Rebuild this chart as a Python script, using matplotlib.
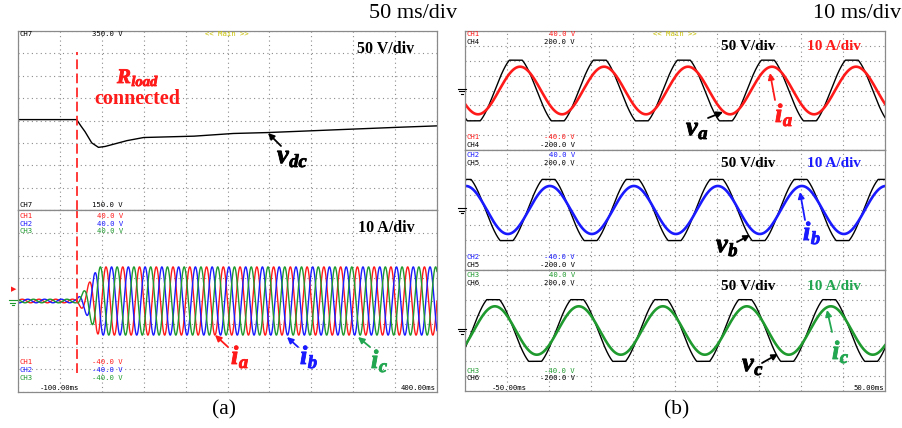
import matplotlib

matplotlib.use("Agg")
import matplotlib.pyplot as plt
import matplotlib.patheffects as pe
import numpy as np
from matplotlib.lines import Line2D
from matplotlib.patches import FancyArrowPatch

FIG_W, FIG_H = 903, 428

# (a) R_load step, 50 ms/div
vdc_time_ms = [-100, -30, -25, -20, -12, -4, 4, 14, 30, 50, 110, 157, 197, 237, 276, 356, 400]
vdc_volts = [251, 251, 244, 237.5, 225, 220, 221, 223.5, 227.5, 231, 232.5, 235.5, 236.5, 238, 239.5, 242.5, 244]
load_step_ms = -30
current_env_time_ms = [-100, -30, -20, -12, -4, 400]
current_env_amps = [0.8, 0.8, 5, 10, 15, 15]
phase_names = ["a", "b", "c"]
phase_shift_deg = [0, -120, 120]
line_freq_hz = 50

# (b) steady state, 10 ms/div
v_peak_time_ms = [-37.9, -30.1, -43.3]
i_peak_time_ms = [-36.9, -29.8, -42.9]
v_sine_amp_volts = 115
v_flat_top_volts = 102
i_amp_amps = 16

V_PER_DIV = 50
A_PER_DIV = 10

RED = "#ff1a1a"
BLUE = "#1a1aff"
GREEN = "#1f9a2e"
LABEL_GREEN = "#22a650"
YELLOW = "#c8c000"
phase_colors = [RED, BLUE, GREEN]
label_colors = [RED, BLUE, LABEL_GREEN]

SERIF = "Liberation Serif"
MONO = "DejaVu Sans Mono"


def fpos(x, y):
    return x / FIG_W, 1 - y / FIG_H


def add_scope_axes(fig, x0, y0, x1, y1, xlim, ylim):
    ax = fig.add_axes([x0 / FIG_W, 1 - y1 / FIG_H, (x1 - x0) / FIG_W, (y1 - y0) / FIG_H])
    ax.set_xlim(xlim)
    ax.set_ylim(ylim)
    ax.set_xticks(np.linspace(xlim[0], xlim[1], 11))
    ax.set_yticks(np.linspace(ylim[0], ylim[1], 9))
    ax.tick_params(length=0, labelbottom=False, labelleft=False)
    ax.set_axisbelow(True)
    ax.grid(True, color="#8c8c8c", linestyle=(0, (1, 3)), linewidth=0.8)
    for spine in ax.spines.values():
        spine.set_color("#8a8a8a")
        spine.set_linewidth(0.9)
    return ax


def scope_text(fig, x, y, text, color="black", ha="left"):
    fig.text(*fpos(x, y), text, color=color, ha=ha, va="center", family=MONO, fontsize=5.2)


def bold_text(fig, x, y, text, color="black", size=11.5, ha="center", va="center"):
    fig.text(*fpos(x, y), text, color=color, ha=ha, va=va, family=SERIF,
             fontweight="bold", fontsize=size)


def symbol_label(fig, x, y, main, sub, color="black", size=19, sub_drop=4):
    # bold italic letter with a bold italic subscript, baseline at pixel y
    renderer = fig.canvas.get_renderer()
    heavy = [pe.withStroke(linewidth=0.6, foreground=color)]
    t_main = fig.text(*fpos(x, y), main, color=color, ha="left", va="baseline",
                      family=SERIF, fontweight="bold", fontstyle="italic", fontsize=size,
                      path_effects=heavy)
    x_end = t_main.get_window_extent(renderer).x1
    fig.text(x_end / FIG_W + 0.5 / FIG_W, 1 - (y + sub_drop) / FIG_H, sub, color=color,
             ha="left", va="baseline", family=SERIF, fontweight="bold",
             fontstyle="italic", fontsize=size * 0.7, path_effects=heavy)


def arrow(fig, tail, head, color):
    fig.add_artist(FancyArrowPatch(
        fpos(*tail), fpos(*head), transform=fig.transFigure,
        arrowstyle="-|>", color=color, lw=1.3, mutation_scale=9,
        shrinkA=0, shrinkB=0,
    ))


def ground_mark(fig, x, y, color):
    for dx, half in [(0, 4), (2.5, 2.5), (5, 1)]:
        fig.add_artist(Line2D([(x - half) / FIG_W, (x + half) / FIG_W],
                              [1 - (y + dx) / FIG_H, 1 - (y + dx) / FIG_H],
                              color=color, lw=0.8, transform=fig.transFigure))


fig = plt.figure(figsize=(FIG_W / 100, FIG_H / 100), dpi=100)

# ---------------- (a) ----------------
ax_vdc = add_scope_axes(fig, 18, 31, 437, 210, (-100, 400), (150, 350))
ax_iabc = add_scope_axes(fig, 18, 210, 437, 392, (-100, 400), (-40, 40))

ax_vdc.plot(vdc_time_ms, vdc_volts, color="black", lw=1.0)

t_a = np.arange(-100, 400.01, 0.05)
env = np.interp(t_a, current_env_time_ms, current_env_amps)
for shift, color in zip(phase_shift_deg, phase_colors):
    i_t = env * np.sin(2 * np.pi * line_freq_hz * t_a / 1000 + np.radians(shift))
    ax_iabc.plot(t_a, i_t, color=color, lw=1.0)

dash = (0, (5.4, 2.4))
ax_vdc.axvline(load_step_ms, ymin=0, ymax=0.883, color="#ff2a2a", lw=1.3, linestyle=dash)
ax_iabc.axvline(load_step_ms, ymin=0.104, ymax=1, color="#ff2a2a", lw=1.3, linestyle=dash)

# ---------------- (b) ----------------
panel_rows = [(31, 150), (150, 270), (270, 391)]
t_b = np.arange(-50, 50.01, 0.02)
for k, (y0, y1) in enumerate(panel_rows):
    ax = add_scope_axes(fig, 465, y0, 885, y1, (-50, 50), (-4 * V_PER_DIV, 4 * V_PER_DIV))
    v_t = np.clip(v_sine_amp_volts * np.cos(2 * np.pi * line_freq_hz * (t_b - v_peak_time_ms[k]) / 1000),
                  -v_flat_top_volts, v_flat_top_volts)
    i_t = i_amp_amps * np.cos(2 * np.pi * line_freq_hz * (t_b - i_peak_time_ms[k]) / 1000)
    ax.plot(t_b, v_t, color="black", lw=1.0)
    ax.plot(t_b, i_t / A_PER_DIV * V_PER_DIV, color=phase_colors[k], lw=1.9)

# ---------------- text: (a) ----------------
fig.text(*fpos(457, 14), "50 ms/div", ha="right", va="center", family=SERIF, fontsize=16)
fig.text(*fpos(901, 14), "10 ms/div", ha="right", va="center", family=SERIF, fontsize=16)

scope_text(fig, 20, 34, "CH7")
scope_text(fig, 92, 34, "350.0 V")
scope_text(fig, 205, 34, "<< Main >>", YELLOW)
scope_text(fig, 20, 205, "CH7")
scope_text(fig, 92, 205, "150.0 V")
for row, color in enumerate(phase_colors):
    scope_text(fig, 20, 216 + 7.5 * row, f"CH{row + 1}", color)
    scope_text(fig, 97, 216 + 7.5 * row, "40.0 V", color)
    scope_text(fig, 20, 362 + 8 * row, f"CH{row + 1}", color)
    scope_text(fig, 92, 362 + 8 * row, "-40.0 V", color)
scope_text(fig, 40, 387.5, "-100.00ms")
scope_text(fig, 436, 387.5, "400.00ms", ha="right")

bold_text(fig, 386, 49, "50 V/div")
bold_text(fig, 386, 228, "10 A/div")
symbol_label(fig, 117, 83, "R", "load", color=RED, size=15, sub_drop=3)
bold_text(fig, 137, 99, "connected", color=RED, size=14.5)

symbol_label(fig, 277, 163, "v", "dc")
arrow(fig, (281, 146), (268, 133), "black")

left_i_pos = [(231, 364), (300, 364), (371, 368)]
left_i_arrows = [((228, 347), (215, 335)), ((298, 347), (287, 337)), ((370, 347), (358, 337))]
for name, color, (x, y), (tail, head) in zip(phase_names, label_colors, left_i_pos, left_i_arrows):
    symbol_label(fig, x, y, "i", name, color=color)
    arrow(fig, tail, head, color)

fig.text(*fpos(224, 410), "(a)", ha="center", va="center", family=SERIF, fontsize=15.5)
fig.text(*fpos(677, 410), "(b)", ha="center", va="center", family=SERIF, fontsize=15.5)

# ---------------- text: (b) ----------------
scope_text(fig, 653, 34, "<< Main >>", YELLOW)
scope_lines = [
    (34, 42, 137, 145),
    (155, 163, 257, 265),
    (275, 283, 371, 378),
]
div_label_y = [47, 164, 287]
v_label_pos = [(686, 135), (716, 252), (742, 371)]
v_arrows = [((708, 118), (723, 112)), ((737, 242), (750, 235)), ((762, 363), (778, 354))]
i_label_pos = [(775, 122), (803, 240), (832, 359)]
i_arrows = [((775, 100), (770, 73)), ((805, 220), (800, 192)), ((832, 332), (827, 310))]
for k, name in enumerate(phase_names):
    ya, yb, yc, yd = scope_lines[k]
    ccolor = phase_colors[k]
    scope_text(fig, 467, ya, f"CH{k + 1}", ccolor)
    scope_text(fig, 575, ya, "40.0 V", ccolor, ha="right")
    scope_text(fig, 467, yb, f"CH{k + 4}")
    scope_text(fig, 575, yb, "200.0 V", ha="right")
    scope_text(fig, 467, yc, f"CH{k + 1}", ccolor)
    scope_text(fig, 575, yc, "-40.0 V", ccolor, ha="right")
    scope_text(fig, 467, yd, f"CH{k + 4}")
    scope_text(fig, 575, yd, "-200.0 V", ha="right")

    bold_text(fig, 748, div_label_y[k], "50 V/div", size=11)
    bold_text(fig, 834, div_label_y[k], "10 A/div", color=label_colors[k], size=11)

    symbol_label(fig, *v_label_pos[k], "v", name)
    arrow(fig, *v_arrows[k], "black")
    symbol_label(fig, *i_label_pos[k], "i", name, color=label_colors[k])
    arrow(fig, *i_arrows[k], label_colors[k])

    ground_mark(fig, 462, (panel_rows[k][0] + panel_rows[k][1]) / 2 - 2, "black")

scope_text(fig, 492, 387.5, "-50.00ms")
scope_text(fig, 884, 387.5, "50.00ms", ha="right")

# trigger and ground markers of panel (a)
fig.text(*fpos(14, 289), "\u25B6", color=RED, ha="center", va="center", fontsize=5)
ground_mark(fig, 13, 300, GREEN)

fig.savefig("out.png", dpi=100)
